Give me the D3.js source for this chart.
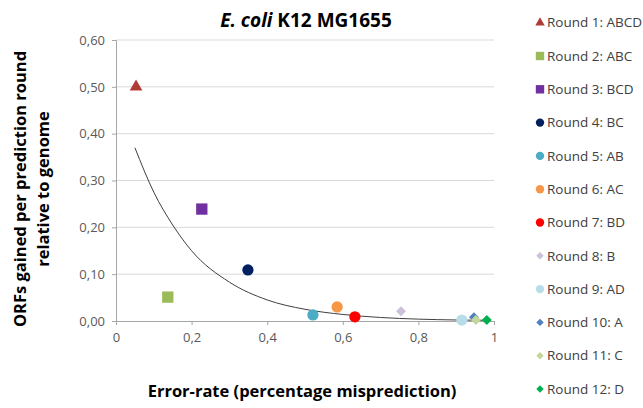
<!DOCTYPE html>
<html lang="en">
<head>
	<meta charset="utf-8">
	<title>E. coli K12 MG1655</title>
	<script src="https://cdn.jsdelivr.net/npm/d3@7/dist/d3.min.js"></script>
	<style>
		body { margin: 0; background: #fff; }
		text { font-family: "Open Sans", "Liberation Sans", sans-serif; }
		.tick text { fill: #595959; font-size: 13px; }
	</style>
</head>
<body>
	<script>
		// data
		var rounds = ["Round 1: ABCD", "Round 2: ABC", "Round 3: BCD", "Round 4: BC", "Round 5: AB", "Round 6: AC",
			"Round 7: BD", "Round 8: B", "Round 9: AD", "Round 10: A", "Round 11: C", "Round 12: D"];
		var errorRate = [0.053, 0.137, 0.227, 0.349, 0.521, 0.585, 0.632, 0.754, 0.915, 0.947, 0.952, 0.981];
		var orfsGained = [0.500, 0.051, 0.239, 0.109, 0.013, 0.030, 0.009, 0.021, 0.002, 0.008, 0.002, 0.002];
		var shapes = ["triangle", "square", "square", "circle", "circle", "circle", "circle", "diamond", "circle", "diamond", "diamond", "diamond"];
		var colors = ["#B03C38", "#9BBB59", "#7030A0", "#002060", "#4BACC6", "#F79646", "#FF0000", "#CCC0DA", "#B7DEE8", "#4F81BD", "#C3D69B", "#00B050"];

		// trendline, points
		var trendX = [0.05, 0.10, 0.15, 0.20, 0.30, 0.40, 0.50, 0.60, 0.70, 0.80, 0.90, 0.98];
		var trendY = [0.370, 0.275, 0.205, 0.150, 0.083, 0.045, 0.025, 0.014, 0.0075, 0.004, 0.0022, 0.0015];

		var xTicks = [0, 0.2, 0.4, 0.6, 0.8, 1];
		var xTickLabels = ["0", "0,2", "0,4", "0,6", "0,8", "1"];
		var yTicks = [0, 0.1, 0.2, 0.3, 0.4, 0.5, 0.6];
		var yTickLabels = ["0,00", "0,10", "0,20", "0,30", "0,40", "0,50", "0,60"];

		var width = 643;
		var height = 408;
		var margin = {top: 40, right: 149, bottom: 87, left: 116};

		var svg = d3.select("body")
			.append("svg")
			.attr("width", width)
			.attr("height", height);

		var x = d3.scaleLinear().domain([0, 1]).range([margin.left, width - margin.right]);
		var y = d3.scaleLinear().domain([0, 0.6]).range([height - margin.bottom, margin.top]);

		// gridlines
		svg.append("g")
			.selectAll("line")
			.data(yTicks.slice(1))
			.enter()
			.append("line")
			.attr("x1", x(0))
			.attr("x2", x(1))
			.attr("y1", function(d) { return y(d); })
			.attr("y2", function(d) { return y(d); })
			.attr("stroke", "#d9d9d9")
			.attr("stroke-width", 1);

		var xAxis = svg.append("g")
			.attr("transform", "translate(0," + y(0) + ")")
			.call(d3.axisBottom(x).tickValues(xTicks).tickSize(4).tickPadding(8)
				.tickFormat(function(d, i) { return xTickLabels[i]; }));

		var yAxis = svg.append("g")
			.attr("transform", "translate(" + x(0) + ",0)")
			.call(d3.axisLeft(y).tickValues(yTicks).tickSize(4).tickPadding(7)
				.tickFormat(function(d, i) { return yTickLabels[i]; }));

		[xAxis, yAxis].forEach(function(a) {
			a.select(".domain").attr("stroke", "#a6a6a6");
			a.selectAll(".tick line").attr("stroke", "#a6a6a6");
			a.selectAll(".tick text").attr("font-family", null);
		});

		// trendline
		var line = d3.line()
			.x(function(d, i) { return x(trendX[i]); })
			.y(function(d) { return y(d); })
			.curve(d3.curveMonotoneX);

		svg.append("path")
			.attr("d", line(trendY))
			.attr("fill", "none")
			.attr("stroke", "#404040")
			.attr("stroke-width", 1);

		function symbolPath(shape, big) {
			var s = big ? 1 : 0.55;
			if (shape == "triangle") return d3.symbol(d3.symbolTriangle, 70 * s)();
			if (shape == "square") return d3.symbol(d3.symbolSquare, 128 * s)();
			if (shape == "circle") return d3.symbol(d3.symbolCircle, 100 * s)();
			return d3.symbol(d3.symbolSquare, 50 * s)();
		}

		// points
		svg.append("g")
			.selectAll("path")
			.data(rounds)
			.enter()
			.append("path")
			.attr("d", function(d, i) { return symbolPath(shapes[i], true); })
			.attr("transform", function(d, i) {
				var t = "translate(" + x(errorRate[i]) + "," + y(orfsGained[i]) + ")";
				return shapes[i] == "diamond" ? t + " rotate(45)" : t;
			})
			.attr("fill", function(d, i) { return colors[i]; });

		// legend
		var legend = svg.append("g")
			.selectAll("g")
			.data(rounds)
			.enter()
			.append("g")
			.attr("transform", function(d, i) { return "translate(540," + (22.7 + i * 33.3) + ")"; });

		legend.append("path")
			.attr("d", function(d, i) { return symbolPath(shapes[i], false); })
			.attr("transform", function(d, i) { return shapes[i] == "diamond" ? "rotate(45)" : null; })
			.attr("fill", function(d, i) { return colors[i]; });

		legend.append("text")
			.attr("x", 7)
			.attr("dy", "0.35em")
			.attr("fill", "#404040")
			.attr("font-size", "13.5px")
			.text(function(d) { return d; });

		// title
		var title = svg.append("text")
			.attr("x", 306)
			.attr("y", 27)
			.attr("text-anchor", "middle")
			.attr("font-size", "19px")
			.attr("font-weight", "bold")
			.attr("fill", "#000");
		title.append("tspan").attr("font-style", "italic").text("E. coli");
		title.append("tspan").text(" K12 MG1655");

		// axis titles
		svg.append("text")
			.attr("x", 302)
			.attr("y", 397)
			.attr("text-anchor", "middle")
			.attr("font-size", "16.5px")
			.attr("font-weight", "bold")
			.attr("fill", "#000")
			.text("Error-rate (percentage misprediction)");

		var yTitle = svg.append("text")
			.attr("transform", "translate(26,189) rotate(-90)")
			.attr("text-anchor", "middle")
			.attr("font-size", "16.5px")
			.attr("font-weight", "bold")
			.attr("fill", "#000");
		yTitle.append("tspan").attr("x", 0).attr("y", 0).text("ORFs gained per prediction round");
		yTitle.append("tspan").attr("x", 0).attr("y", 23).text("relative to genome");
	</script>
</body>
</html>
